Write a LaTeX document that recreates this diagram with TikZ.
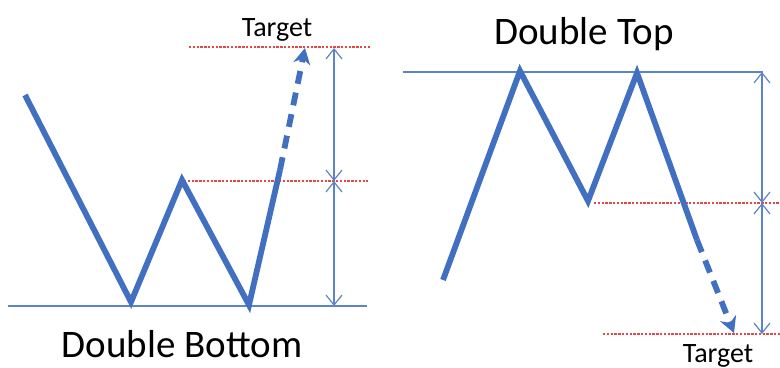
\documentclass[tikz,border=0pt]{standalone}
\usepackage{fontspec}
\setmainfont{Carlito}
\usetikzlibrary{arrows.meta}
\definecolor{chartblue}{RGB}{66,112,192}
\definecolor{dimblue}{RGB}{92,132,200}
\definecolor{tgtred}{RGB}{226,72,72}

\begin{document}
\begin{tikzpicture}[x=0.5pt,y=-0.5pt,
    price/.style={chartblue,line width=2.9pt,line join=miter},
    proj/.style={chartblue,line width=2.9pt,dash pattern=on 6.5pt off 4.5pt,
                 -{Stealth[length=8pt,width=8.5pt]}},
    level/.style={dimblue,line width=0.7pt},
    tgt/.style={tgtred,line width=0.8pt,dash pattern=on 1.2pt off 0.7pt},
    dim/.style={dimblue,line width=0.6pt,
                {Straight Barb[length=5pt,width=8pt]}-{Straight Barb[length=5pt,width=8pt]}},
    title/.style={font=\fontsize{19.5}{22}\selectfont,anchor=base},
    lbl/.style={font=\fontsize{14}{16}\selectfont,anchor=base}
  ]
    \useasboundingbox (0,0) rectangle (780,368);

    % double bottom
    \coordinate (w0) at (25,95);
    \coordinate (w1) at (131,302);
    \coordinate (w2) at (182,180);
    \coordinate (w3) at (249,305);
    \coordinate (w4) at (280,170);
    \coordinate (wt) at (305,48);

    \draw[level] (8,306) coordinate (bl) -- (367,306) coordinate (br);
    \draw[tgt] (w2) ++(2,1) coordinate (nl) -- (368,181) coordinate (nr);
    \draw[tgt] (189,47) coordinate (tl) -- (370,47) coordinate (tr);
    \draw[price] (w0) -- (w1) -- (w2) -- (w3) -- (w4);
    \draw[proj] (w4) -- (wt);
    \draw[dim] (334,48) coordinate (d1) -- (334,181) coordinate (d2);
    \draw[dim] (d2) -- (334,306);

    \node[lbl] (tgtl) at (277,37) {Target};
    \node[title] (dbot) at (182,357) {Double Bottom};

    % double top
    \coordinate (m0) at (443,280);
    \coordinate (m1) at (520,71);
    \coordinate (m2) at (588,201);
    \coordinate (m3) at (637,73);
    \coordinate (m4) at (697,240);
    \coordinate (mt) at (734,333);

    \draw[level] (403,72) coordinate (ul) -- (763,72) coordinate (ur);
    \draw[tgt] (594,203) coordinate (ml) -- (780,203) coordinate (mr);
    \draw[tgt] (603,334) coordinate (ll) -- (780,334) coordinate (lr);
    \draw[price] (m0) -- (m1) -- (m2) -- (m3) -- (m4);
    \draw[proj] (m4) -- (mt);
    \draw[dim] (762,72) coordinate (e1) -- (762,203) coordinate (e2);
    \draw[dim] (e2) -- (762,334);

    \node[lbl] (tgtr) at (718,362) {Target};
    \node[title] (dtop) at (584,45) {Double Top};
  \end{tikzpicture}
\end{document}
